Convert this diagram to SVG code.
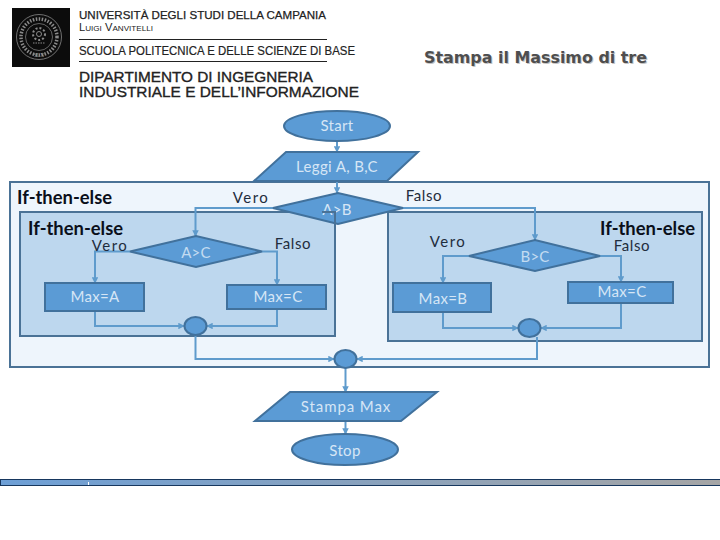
<svg xmlns="http://www.w3.org/2000/svg" width="720" height="540" viewBox="0 0 720 540">
<style>
text{font-family:"Lato","Liberation Sans",sans-serif}
.hd{font-family:"Liberation Sans",sans-serif;fill:#222}
.n{fill:#5b9bd5;stroke:#41719c;stroke-width:2}
.t{fill:#d6e6f5;font-size:15px;text-anchor:middle;letter-spacing:.35px}
.d{fill:#c3dbf1;font-size:15px;text-anchor:middle;letter-spacing:.2px}
.l{fill:#1f2d3d;font-size:15px;text-anchor:middle;letter-spacing:.6px}
.v{letter-spacing:1.5px}
.h{fill:#0a0f1a;font-size:18.400px;font-weight:700}
.c{fill:none;stroke:#5f9bcc;stroke-width:2}
.box{stroke:#4a7296;stroke-width:2}
.seal{fill:none;stroke:#8a8a8a}
</style>
<defs>
<marker id="a" viewBox="0 0 8 8" refX="7" refY="4" markerWidth="6.500" markerHeight="6.500" orient="auto" markerUnits="userSpaceOnUse"><path d="M0 0L8 4L0 8z" fill="#5f9bcc"/></marker>
<linearGradient id="bar" x1="0" x2="1" y1="0" y2="0"><stop offset="0" stop-color="#6d9fd6"/><stop offset="1" stop-color="#a5a5a5"/></linearGradient>
</defs>
<rect width="720" height="540" fill="#fff"/>
<g id="logo">
<rect x="12" y="8" width="58" height="59" fill="#0c0c0c"/>
<circle class="seal" cx="39" cy="37" r="22.500" stroke-width=".8"/>
<circle class="seal" cx="39" cy="37" r="18" stroke-width="3.500" stroke-dasharray="1.500 1.500"/>
<circle class="seal" cx="39" cy="37" r="13.500" stroke-width=".7"/>
<circle class="seal" cx="39" cy="34" r="2.500" stroke-width="1"/>
<circle class="seal" cx="39" cy="34" r="6" stroke-width="2" stroke-dasharray="2 2"/>
<path class="seal" d="M33 43H45" stroke-width="1" stroke-dasharray="1.500 1"/>
<text x="39" y="57" font-size="5.500" fill="#9a9a9a" text-anchor="middle" style="font-family:'Liberation Serif',serif">SLN</text>
<text class="hd" x="79" y="19" font-size="11.500" stroke="#222" stroke-width=".25" textLength="247" lengthAdjust="spacingAndGlyphs">UNIVERSITÀ DEGLI STUDI DELLA CAMPANIA</text>
<text class="hd" x="79" y="31" font-size="11" style="font-variant:small-caps" textLength="74" lengthAdjust="spacingAndGlyphs">Luigi Vanvitelli</text>
<line x1="79" y1="39.500" x2="327" y2="39.500" stroke="#222" stroke-width="1"/>
<text class="hd" x="79" y="55" font-size="12.500" stroke="#222" stroke-width=".2" textLength="276" lengthAdjust="spacingAndGlyphs">SCUOLA POLITECNICA E DELLE SCIENZE DI BASE</text>
<line x1="79" y1="61.500" x2="327" y2="61.500" stroke="#222" stroke-width="1"/>
<text class="hd" x="79" y="81.500" font-size="15.500" stroke="#222" stroke-width=".35" textLength="234" lengthAdjust="spacingAndGlyphs">DIPARTIMENTO DI INGEGNERIA</text>
<text class="hd" x="79" y="96.500" font-size="15.500" stroke="#222" stroke-width=".35" textLength="280" lengthAdjust="spacingAndGlyphs">INDUSTRIALE E DELL’INFORMAZIONE</text>
</g>
<g id="title">
<text x="425" y="64" font-size="16" font-weight="700" fill="#c4c4c4" style="font-family:'DejaVu Sans',sans-serif" textLength="223" lengthAdjust="spacingAndGlyphs">Stampa il Massimo di tre</text>
<text x="424" y="63" font-size="16" font-weight="700" fill="#4e4e4e" style="font-family:'DejaVu Sans',sans-serif" textLength="223" lengthAdjust="spacingAndGlyphs">Stampa il Massimo di tre</text>
</g>
<g id="outer-block"><rect class="box" x="10" y="182" width="699" height="185" fill="#eef5fc"/><text class="h" x="17" y="204">If-then-else</text></g>
<g id="inner-left-block"><rect class="box" x="20" y="212" width="315" height="124" fill="#bdd7ee"/><text class="h" x="28" y="235">If-then-else</text></g>
<g id="inner-right-block"><rect class="box" x="388" y="212" width="314" height="129" fill="#bdd7ee"/><text class="h" x="600" y="235">If-then-else</text></g>
<g id="connectors">
<path class="c" marker-end="url(#a)" d="M337 141V152"/>
<path class="c" marker-end="url(#a)" d="M337 181V193"/>
<path class="c" marker-end="url(#a)" d="M273 208H195.500V236"/>
<path class="c" marker-end="url(#a)" d="M403 208H535V240"/>
<path class="c" marker-end="url(#a)" d="M130 251.500H95V283"/>
<path class="c" marker-end="url(#a)" d="M262 251.500H277V285"/>
<path class="c" marker-end="url(#a)" d="M95 311V326H184"/>
<path class="c" marker-end="url(#a)" d="M277 309V326H207"/>
<path class="c" marker-end="url(#a)" d="M195.500 335V359H334"/>
<path class="c" marker-end="url(#a)" d="M469 256H443V283"/>
<path class="c" marker-end="url(#a)" d="M600 256H621V282"/>
<path class="c" marker-end="url(#a)" d="M443 312V328H518"/>
<path class="c" marker-end="url(#a)" d="M621 303V328H541"/>
<path class="c" marker-end="url(#a)" d="M537 337V359H357"/>
<path class="c" marker-end="url(#a)" d="M345.500 368V392"/>
<path class="c" marker-end="url(#a)" d="M345.500 421V434"/>
</g>
<g id="start"><ellipse class="n" cx="337" cy="126" rx="53" ry="15"/><text class="t" x="337" y="131">Start</text></g>
<g id="input"><polygon class="n" points="286,152 418,152 387,181 254,181"/><text class="t" x="337" y="172">Leggi A, B,C</text></g>
<g id="ab"><polygon class="n" points="273,208 338,193 403,208 338,224"/><text class="t" x="337" y="215">A&gt;B</text></g>
<path d="M322 212H335V224" stroke="#4a7296" stroke-width="2" fill="none"/>
<g id="ac"><polygon class="n" points="130,251.500 196,236 262,251.500 196,267"/><text class="d" x="196" y="258">A&gt;C</text></g>
<g id="max-a"><rect class="n" x="45" y="283" width="99" height="28"/><text class="t" x="95" y="302">Max=A</text></g>
<g id="max-c1"><rect class="n" x="227" y="285" width="99" height="24"/><text class="t" x="278" y="302">Max=C</text></g>
<g id="join-left"><ellipse class="n" cx="195.500" cy="326" rx="11" ry="9"/></g>
<g id="bc"><polygon class="n" points="469,256 535,240 600,256 535,271"/><text class="d" x="535" y="262">B&gt;C</text></g>
<g id="max-b"><rect class="n" x="393" y="283" width="98" height="29"/><text class="t" x="443" y="304">Max=B</text></g>
<g id="max-c2"><rect class="n" x="568" y="282" width="105" height="21"/><text class="t" x="622" y="297">Max=C</text></g>
<g id="join-right"><ellipse class="n" cx="529.500" cy="328" rx="11" ry="9"/></g>
<g id="join"><ellipse class="n" cx="345.500" cy="359" rx="11" ry="9"/></g>
<g id="output"><polygon class="n" points="290,392 437,392 401,421 255,421"/><text class="t" x="346" y="412" style="letter-spacing:.9px">Stampa Max</text></g>
<g id="stop"><ellipse class="n" cx="345" cy="449.500" rx="53" ry="15.500"/><text class="t" x="345" y="456">Stop</text></g>
<g id="labels">
<text class="l v" x="251" y="203">Vero</text>
<text class="l" x="424" y="200.500">Falso</text>
<text class="l v" x="110" y="251">Vero</text>
<text class="l" x="293" y="248.500">Falso</text>
<text class="l v" x="448" y="246.500">Vero</text>
<text class="l" x="632" y="251">Falso</text>
</g>
<g id="footer-bar"><rect x="0.500" y="479.500" width="720" height="6" fill="url(#bar)" stroke="#17375e" stroke-width="1"/><rect x="88" y="482" width="1" height="3" fill="#fff"/></g>
</svg>
